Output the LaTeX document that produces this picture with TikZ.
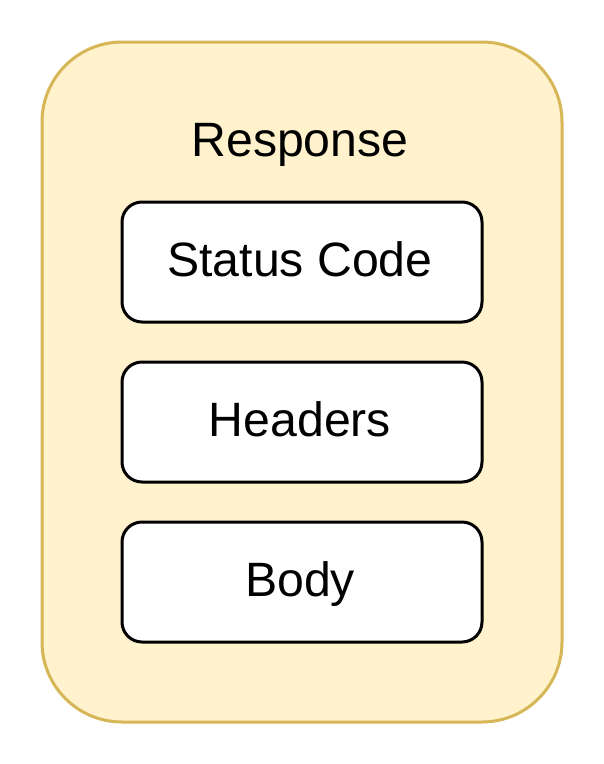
\documentclass[tikz,border=0pt]{standalone}
\usepackage{fontspec}
\setmainfont{Liberation Sans}
\definecolor{outerfill}{HTML}{FFF2CC}
\definecolor{outerline}{HTML}{D6B656}
\begin{document}
\begin{tikzpicture}[x=1pt,y=1pt,
  field/.style={draw=black, fill=white, line width=3pt, rounded corners=20pt,
    minimum width=360pt, minimum height=120pt, inner sep=0pt},
  fieldtext/.style={font=\fontsize{48.2}{58}\selectfont, text height=34pt, text depth=0pt, inner sep=0pt},
  container/.style={draw=outerline, fill=outerfill, line width=3pt, rounded corners=80pt,
    minimum width=520pt, minimum height=680pt, inner sep=0pt}]
\useasboundingbox (0,0) rectangle (604,-764);
\node[container] (resp) at (302,-382) {};
\node[anchor=base, font=\fontsize{48.2}{58}\selectfont, inner sep=0pt] (title) at (300,-156) {Response};
\node[field] (status) at (302,-262) {};
\node[field] (headers) at (302,-422) {};
\node[field] (body) at (302,-582) {};
\node[fieldtext] (statustext) at (300,-259) {Status Code};
\node[fieldtext] (headerstext) at (300,-419) {Headers};
\node[fieldtext] (bodytext) at (300,-579) {Body};
\end{tikzpicture}
\end{document}
